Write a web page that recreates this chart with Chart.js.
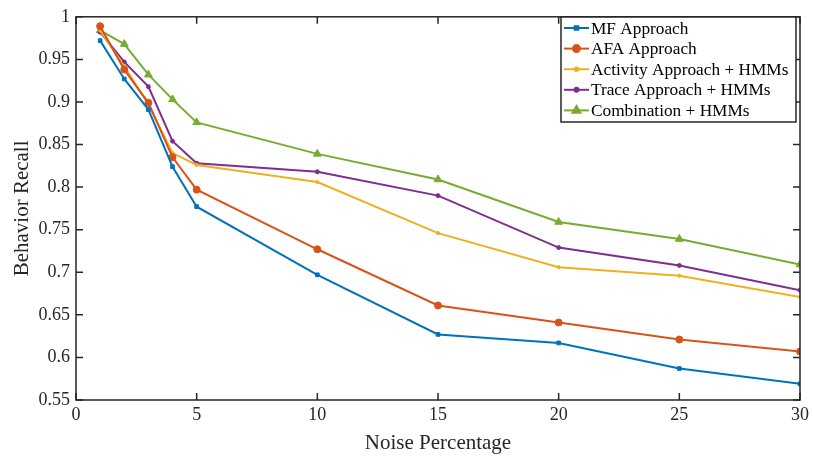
<!DOCTYPE html>
<html><head><meta charset="utf-8">
<script src="https://cdn.jsdelivr.net/npm/chart.js@4/dist/chart.umd.min.js"></script>
<style>html,body{margin:0;padding:0;background:#fff}#wrap{width:813px;height:456px}</style>
</head><body><div id="wrap"><canvas id="c" width="813" height="456"></canvas></div>
<script>
const noise=[1,2,3,4,5,10,15,20,25,30];
const mfApproach=[0.972,0.927,0.891,0.824,0.777,0.697,0.627,0.617,0.587,0.569];
const afaApproach=[0.989,0.938,0.899,0.835,0.797,0.727,0.661,0.641,0.621,0.607];
const activityHMM=[0.984,0.942,0.897,0.840,0.826,0.806,0.746,0.706,0.696,0.671];
const traceHMM=[0.982,0.947,0.918,0.854,0.828,0.818,0.790,0.729,0.708,0.679];
const combinationHMM=[0.984,0.968,0.932,0.903,0.876,0.839,0.809,0.759,0.739,0.709];
const seriesNames=['MF Approach','AFA Approach','Activity Approach + HMMs','Trace Approach + HMMs','Combination + HMMs'];
const xTicks=[0,5,10,15,20,25,30];
const yTicks=[0.55,0.6,0.65,0.7,0.75,0.8,0.85,0.9,0.95,1];

const colors=['#0072BD','#D95319','#EDB120','#7E2F8E','#77AC30'];
const styles=[{ps:'rect',r:2.6},{ps:'circle',r:3.5},{ps:'circle',r:1.6},{ps:'circle',r:2},{ps:'triangle',r:4.5}];
const allSeries=[mfApproach,afaApproach,activityHMM,traceHMM,combinationHMM];
const FONT='"Liberation Serif","Times New Roman",serif';
const AX='#262626';

const datasets=allSeries.map((s,i)=>({
  label:seriesNames[i],
  data:noise.map((x,j)=>({x:x,y:s[j]})),
  borderColor:colors[i],backgroundColor:colors[i],
  borderWidth:2,pointStyle:styles[i].ps,pointRadius:styles[i].r,pointBorderWidth:1,
  pointHoverRadius:styles[i].r,tension:0,fill:false
}));

const boxPlugin={
  id:'box',
  afterDraw(chart){
    const ctx=chart.ctx,a=chart.chartArea,xs=chart.scales.x,ys=chart.scales.y;
    ctx.save();
    ctx.strokeStyle=AX;ctx.lineWidth=1.5;
    ctx.strokeRect(a.left,a.top,a.right-a.left,a.bottom-a.top);
    const L=7;
    ctx.beginPath();
    xTicks.forEach(v=>{const p=xs.getPixelForValue(v);
      ctx.moveTo(p,a.bottom);ctx.lineTo(p,a.bottom-L);
      ctx.moveTo(p,a.top);ctx.lineTo(p,a.top+L);});
    yTicks.forEach(v=>{const p=ys.getPixelForValue(v);
      ctx.moveTo(a.left,p);ctx.lineTo(a.left+L,p);
      ctx.moveTo(a.right,p);ctx.lineTo(a.right-L,p);});
    ctx.stroke();
    // legend
    const lx=561,ly=17,lw=235,lh=105,rowH=20.6;
    ctx.fillStyle='#fff';ctx.fillRect(lx,ly,lw,lh);
    ctx.strokeStyle=AX;ctx.lineWidth=1.5;ctx.strokeRect(lx,ly,lw,lh);
    ctx.font='17.3px '+FONT;ctx.textBaseline='middle';
    seriesNames.forEach((n,i)=>{
      const y=ly+11+i*rowH;
      ctx.strokeStyle=colors[i];ctx.lineWidth=2;
      ctx.beginPath();ctx.moveTo(lx+3,y);ctx.lineTo(lx+28,y);ctx.stroke();
      ctx.fillStyle=colors[i];
      Chart.helpers.drawPoint(ctx,{pointStyle:styles[i].ps,radius:styles[i].r,borderWidth:1},lx+15.5,y);
      ctx.fillStyle='#000';ctx.fillText(n,lx+30,y+1);
    });
    ctx.restore();
  }
};

new Chart(document.getElementById('c'),{
  type:'line',
  data:{datasets},
  options:{
    responsive:false,animation:false,devicePixelRatio:1,
    layout:{padding:{left:10,right:13,top:13,bottom:0}},
    plugins:{legend:{display:false},tooltip:{enabled:false}},
    scales:{
      x:{type:'linear',min:0,max:30,
        afterBuildTicks(s){s.ticks=xTicks.map(v=>({value:v}));},
        afterFit(s){s.height=56;},
        grid:{display:false,drawTicks:false},
        border:{display:false},
        ticks:{color:AX,padding:4,font:{family:FONT,size:18},maxRotation:0,callback:v=>String(v)},
        title:{display:true,text:'Noise Percentage',color:AX,font:{family:FONT,size:21},padding:{top:0,bottom:0}}
      },
      y:{type:'linear',min:0.55,max:1,
        afterBuildTicks(s){s.ticks=yTicks.map(v=>({value:v}));},
        afterFit(s){s.width=66;},
        grid:{display:false,drawTicks:false},
        border:{display:false},
        ticks:{color:AX,padding:6,font:{family:FONT,size:18},callback:v=>String(+(+v).toFixed(2))},
        title:{display:true,text:'Behavior Recall',color:AX,font:{family:FONT,size:21},padding:{top:0,bottom:0}}
      }
    }
  },
  plugins:[boxPlugin]
});
</script></body></html>
